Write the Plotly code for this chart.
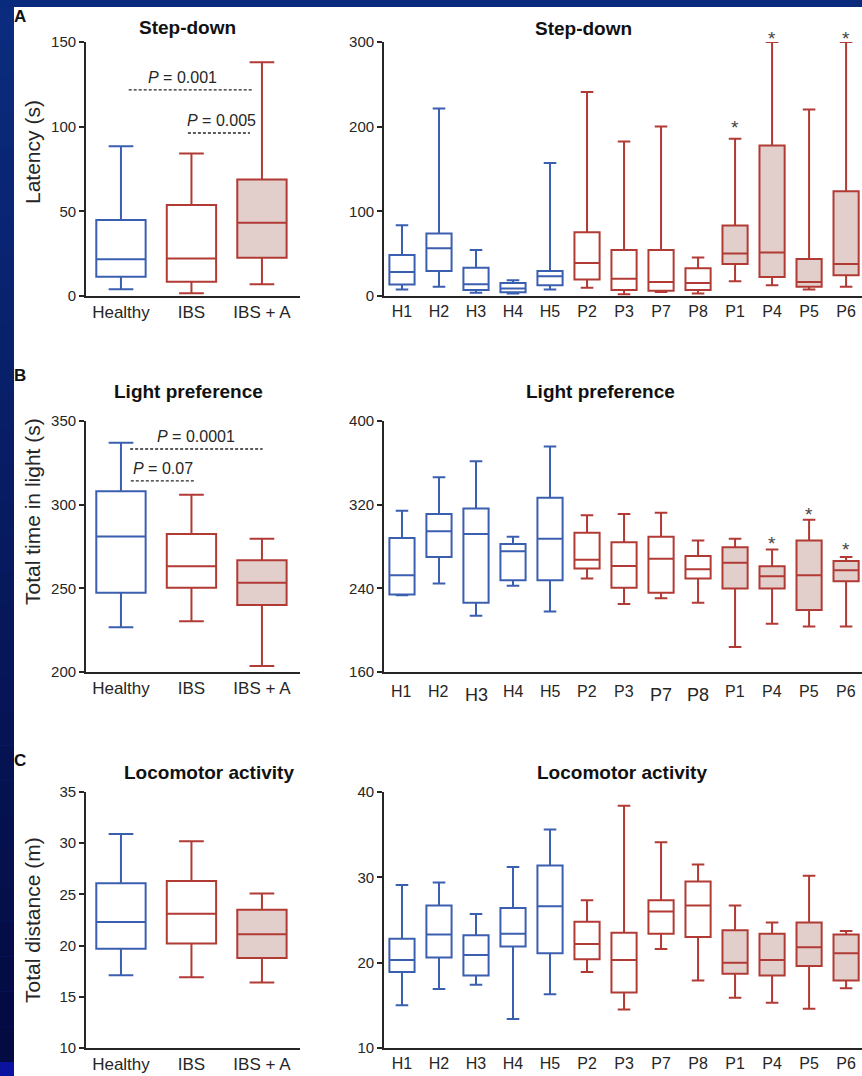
import plotly.graph_objects as go

W, H = 862, 1076
FONT = "Liberation Sans, Arial, Helvetica, sans-serif"
BLUE = "#3b5fb0"
RED = "#b23a35"
FILL = "#e2cfcc"
INK = "#262626"

# ---- categories -------------------------------------------------------
groups = ["Healthy", "IBS", "IBS + A"]
group_color = [BLUE, RED, RED]
group_filled = [False, False, True]

subjects = ["H1", "H2", "H3", "H4", "H5", "P2", "P3", "P7", "P8", "P1", "P4", "P5", "P6"]
anxious_subjects = ["P1", "P4", "P5", "P6"]

# ---- Step-down latency (s) -------------------------------------------
sd_grp_low = [4.0, 1.6, 6.9]
sd_grp_q1 = [11.4, 8.4, 22.6]
sd_grp_med = [21.7, 22.2, 43.2]
sd_grp_q3 = [44.9, 53.7, 68.8]
sd_grp_high = [88.5, 84.2, 138.0]

sd_sub_low = [7.8, 10.8, 3.9, 3.1, 7.8, 9.6, 2.0, 4.6, 3.1, 17.4, 12.8, 7.8, 10.8]
sd_sub_q1 = [13.6, 29.4, 7.0, 4.3, 12.8, 19.4, 7.0, 6.2, 7.0, 37.9, 22.4, 10.8, 24.4]
sd_sub_med = [28.2, 56.5, 13.9, 8.9, 23.2, 39.1, 20.5, 16.6, 15.4, 50.3, 51.4, 16.6, 37.9]
sd_sub_q3 = [48.3, 73.9, 33.3, 15.4, 29.4, 75.4, 54.2, 54.2, 32.8, 83.2, 177.9, 43.7, 123.8]
sd_sub_high = [83.5, 221.6, 54.2, 18.6, 157.0, 241.0, 182.5, 200.3, 45.6, 185.6, 300.0, 220.4, 300.0]
sd_star_subj = ["P1", "P4", "P6"]
sd_star_y = [204, 309, 309]

# ---- Light preference, total time in light (s) ------------------------
lp_grp_low = [226.8, 230.4, 203.6]
lp_grp_q1 = [247.3, 250.3, 240.0]
lp_grp_med = [281.0, 263.2, 253.3]
lp_grp_q3 = [308.0, 282.5, 266.8]
lp_grp_high = [337.0, 305.9, 279.7]

lp_sub_low = [233.4, 244.7, 213.7, 242.4, 217.8, 249.4, 225.0, 230.4, 226.3, 184.0, 206.1, 203.6, 203.6]
lp_sub_q1 = [234.2, 269.9, 226.3, 247.8, 247.8, 258.9, 240.5, 235.8, 249.4, 239.9, 239.9, 219.4, 246.8]
lp_sub_med = [252.5, 294.5, 292.0, 275.5, 287.3, 267.4, 261.3, 268.3, 258.2, 264.5, 251.6, 252.5, 257.3]
lp_sub_q3 = [288.2, 311.0, 316.3, 282.5, 326.7, 293.2, 284.0, 289.4, 270.8, 279.3, 261.0, 285.7, 266.1]
lp_sub_high = [314.1, 346.3, 361.4, 289.4, 375.6, 310.0, 311.0, 312.2, 285.7, 287.3, 277.1, 305.5, 269.9]
lp_star_subj = ["P4", "P5", "P6"]
lp_star_y = [286.6, 314.1, 281.0]

# ---- Locomotor activity, total distance (m) ---------------------------
la_grp_low = [17.1, 16.9, 16.4]
la_grp_q1 = [19.7, 20.2, 18.8]
la_grp_med = [22.3, 23.1, 21.1]
la_grp_q3 = [26.1, 26.3, 23.5]
la_grp_high = [30.9, 30.2, 25.1]

la_sub_low = [15.0, 16.9, 17.4, 13.4, 16.3, 18.9, 14.5, 21.6, 17.9, 15.9, 15.3, 14.6, 17.0]
la_sub_q1 = [18.9, 20.6, 18.5, 21.9, 21.1, 20.4, 16.5, 23.4, 23.0, 18.7, 18.5, 19.6, 17.9]
la_sub_med = [20.3, 23.3, 20.9, 23.4, 26.6, 22.2, 20.3, 26.0, 26.7, 20.0, 20.3, 21.8, 21.1]
la_sub_q3 = [22.8, 26.7, 23.2, 26.4, 31.4, 24.8, 23.5, 27.3, 29.5, 23.8, 23.4, 24.7, 23.3]
la_sub_high = [29.1, 29.4, 25.7, 31.2, 35.6, 27.3, 38.4, 34.1, 31.5, 26.7, 24.7, 30.2, 23.7]

# ---- pairwise comparisons drawn on the group panels -------------------
# (p value, bracket start, bracket end, bracket height, label centre)
sd_pvals = [("0.001", 0.11, 1.86, 121.7, 0.87), ("0.005", 0.95, 1.83, 96.3, 1.43)]
lp_pvals = [("0.0001", 0.13, 2.01, 333.3, 1.06), ("0.07", 0.14, 1.04, 314.2, 0.60)]

# subject labels of the light-preference panel that sit a little lower and larger
lp_dropped_labels = ["H3", "P7", "P8"]


def px(x):
    return x / W


def py(y):
    return 1 - y / H


subject_color = [BLUE if s.startswith("H") else RED for s in subjects]
subject_filled = [s in anxious_subjects for s in subjects]

fig = go.Figure()


def add_boxes(cats, colors, filled, low, q1, med, q3, high, xa, ya, width):
    for i, cat in enumerate(cats):
        fig.add_trace(go.Box(
            x=[cat], q1=[q1[i]], median=[med[i]], q3=[q3[i]],
            lowerfence=[low[i]], upperfence=[high[i]],
            width=width, whiskerwidth=0.5, boxpoints=False,
            line=dict(color=colors[i], width=2),
            fillcolor=FILL if filled[i] else "white",
            xaxis=xa, yaxis=ya, showlegend=False, hoverinfo="skip",
        ))


add_boxes(groups, group_color, group_filled, sd_grp_low, sd_grp_q1, sd_grp_med, sd_grp_q3, sd_grp_high, "x", "y", 0.7)
add_boxes(subjects, subject_color, subject_filled, sd_sub_low, sd_sub_q1, sd_sub_med, sd_sub_q3, sd_sub_high, "x2", "y2", 0.68)
add_boxes(groups, group_color, group_filled, lp_grp_low, lp_grp_q1, lp_grp_med, lp_grp_q3, lp_grp_high, "x3", "y3", 0.7)
add_boxes(subjects, subject_color, subject_filled, lp_sub_low, lp_sub_q1, lp_sub_med, lp_sub_q3, lp_sub_high, "x4", "y4", 0.68)
add_boxes(groups, group_color, group_filled, la_grp_low, la_grp_q1, la_grp_med, la_grp_q3, la_grp_high, "x5", "y5", 0.7)
add_boxes(subjects, subject_color, subject_filled, la_sub_low, la_sub_q1, la_sub_med, la_sub_q3, la_sub_high, "x6", "y6", 0.68)

# ---- axes -------------------------------------------------------------
left_dom = [px(86), px(300)]
right_dom = [px(384), 1.0]
left_rng = [-0.496, 2.54]
right_rng = [-0.486, 12.43]
rows = [(296, 42), (672, 421), (1048, 792)]

axis_common = dict(showline=True, linecolor=INK, linewidth=1.8, showgrid=False,
                   zeroline=False, automargin=False,
                   tickfont=dict(family=FONT, size=15, color=INK))

y_specs = [
    ([0, 150], [0, 50, 100, 150]),
    ([0, 300], [0, 100, 200, 300]),
    ([200, 350], [200, 250, 300, 350]),
    ([160, 400], [160, 240, 320, 400]),
    ([10, 35], [10, 15, 20, 25, 30, 35]),
    ([10, 40], [10, 20, 30, 40]),
]

layout_axes = {}
for k in range(6):
    row = k // 2
    is_right = k % 2 == 1
    suffix = "" if k == 0 else str(k + 1)
    bottom, top = rows[row]
    layout_axes["xaxis" + suffix] = dict(
        axis_common, domain=right_dom if is_right else left_dom,
        range=right_rng if is_right else left_rng, anchor="y" + suffix,
        type="category", ticks="",
        categoryorder="array", categoryarray=subjects if is_right else groups,
        showticklabels=not (is_right and row == 1),
        tickfont=dict(family=FONT, size=16 if is_right else 17, color=INK),
    )
    rng, tv = y_specs[k]
    layout_axes["yaxis" + suffix] = dict(
        axis_common, domain=[py(bottom), py(top)], range=rng, tickvals=tv,
        anchor="x" + suffix, ticks="outside", ticklen=5, tickwidth=1.5, tickcolor=INK,
    )

# ---- background: navy frame with white panel --------------------------
shapes = []
top_c = (10, 43, 126)
bot_c = (4, 10, 66)
n_bands = 30
for b in range(n_bands):
    t = b / (n_bands - 1)
    c = tuple(int(round(top_c[j] + (bot_c[j] - top_c[j]) * t)) for j in range(3))
    y0 = 7 + (1062 - 7) * b / n_bands
    y1 = 7 + (1062 - 7) * (b + 1) / n_bands
    shapes.append(dict(type="rect", xref="paper", yref="paper", x0=0, x1=px(14),
                       y0=py(y1), y1=py(y0), fillcolor="rgb(%d,%d,%d)" % c,
                       line=dict(width=0), layer="below"))
shapes.append(dict(type="rect", xref="paper", yref="paper", x0=0, x1=px(14),
                   y0=0, y1=py(1062), fillcolor="#0b12a0", line=dict(width=0), layer="below"))
shapes.append(dict(type="rect", xref="paper", yref="paper", x0=px(14), x1=1,
                   y0=0, y1=py(7), fillcolor="white", line=dict(width=0), layer="below"))

annotations = []


def note(x, y, text, size, color=INK, xref="paper", yref="paper", **kw):
    annotations.append(dict(xref=xref, yref=yref, x=x, y=y, text=text, showarrow=False,
                            xanchor="center", yanchor="middle",
                            font=dict(family=FONT, size=size, color=color), **kw))


# significance stars; a star above the axis top is pinned to the top and lifted
for subj, ys, xa, ya, k in [(sd_star_subj, sd_star_y, "x2", "y2", 1), (lp_star_subj, lp_star_y, "x4", "y4", 3)]:
    rng = y_specs[k][0]
    bottom, top = rows[k // 2]
    px_per_unit = (bottom - top) / (rng[1] - rng[0])
    for s, v in zip(subj, ys):
        anchor_y = min(v, rng[1])
        note(s, anchor_y, "*", 19, color="#444", xref=xa, yref=ya,
             yshift=(v - anchor_y) * px_per_unit - 4)

# p-value brackets
for (label, x0, x1, yv, xc), xa, ya in [(p, "x", "y") for p in sd_pvals] + [(p, "x3", "y3") for p in lp_pvals]:
    shapes.append(dict(type="line", xref=xa, yref=ya, x0=x0, x1=x1, y0=yv, y1=yv,
                       line=dict(color=INK, width=1.4, dash="3px,2px")))
    note(xc, yv, "<i>P</i> = " + label, 16, xref=xa, yref=ya, yshift=12)

# subject labels under the light-preference panel
for s in subjects:
    dropped = s in lp_dropped_labels
    note(s, 160, s, 18 if dropped else 16, xref="x4", yref="y4",
         yshift=-23 if dropped else -19)

# panel titles
titles = [
    ("Step-down", 187, 28), ("Step-down", 583, 29),
    ("Light preference", 188, 391), ("Light preference", 600, 391),
    ("Locomotor activity", 209, 772), ("Locomotor activity", 622, 772),
]
for text, x, y in titles:
    note(px(x), py(y), "<b>%s</b>" % text, 19, color="#111")

# panel letters
for text, y in [("A", 16), ("B", 375), ("C", 760)]:
    note(px(20), py(y), "<b>%s</b>" % text, 17, color="#111")

# y-axis titles
for text, y in [("Latency (s)", 152), ("Total time in light (s)", 512), ("Total distance (m)", 920)]:
    note(px(32), py(y), text, 21, textangle=-90)

fig.update_layout(
    width=W, height=H, margin=dict(l=0, r=0, t=0, b=0, pad=0, autoexpand=False),
    paper_bgcolor="#0a2a7e", plot_bgcolor="rgba(0,0,0,0)",
    boxmode="overlay", showlegend=False,
    font=dict(family=FONT, color=INK),
    shapes=shapes, annotations=annotations,
    **layout_axes,
)

fig.write_html("out.html")
